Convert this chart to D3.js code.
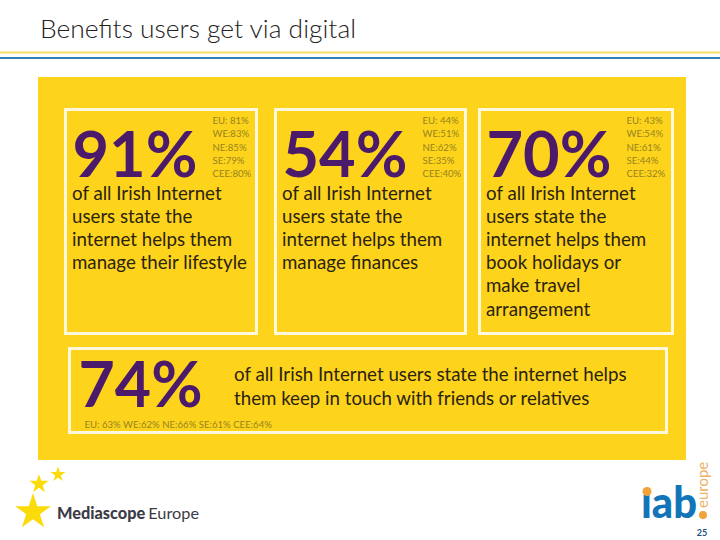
<!DOCTYPE html>
<html>
<head>
<meta charset="utf-8">
<script src="https://cdn.jsdelivr.net/npm/d3@7/dist/d3.min.js"></script>
<style>html,body{margin:0;padding:0;background:#fff}svg{display:block}text{font-family:Lato,"Open Sans",sans-serif}</style>
</head>
<body>
<svg id="c" width="720" height="540"></svg>
<script>
const titleText = "Benefits users get via digital";
const headlines = ["91%", "54%", "70%"];
const descriptions = [
  ["of all Irish Internet", "users state the", "internet helps them", "manage their lifestyle"],
  ["of all Irish Internet", "users state the", "internet helps them", "manage finances"],
  ["of all Irish Internet", "users state the", "internet helps them", "book holidays or", "make travel", "arrangement"]
];
const regionLabels = [
  ["EU: 81%", "WE:83%", "NE:85%", "SE:79%", "CEE:80%"],
  ["EU: 44%", "WE:51%", "NE:62%", "SE:35%", "CEE:40%"],
  ["EU: 43%", "WE:54%", "NE:61%", "SE:44%", "CEE:32%"]
];
const wideHeadline = "74%";
const wideDescription = ["of all Irish Internet users state the internet helps", "them keep in touch with friends or relatives"];
const wideRegions = "EU: 63% WE:62% NE:66% SE:61% CEE:64%";

const PURPLE = "#4b1a6b", YELLOW = "#fdd31c", INK = "#2b2310", GREY = "#97831f";
const svg = d3.select("#c");

svg.append("text").attr("x", 40).attr("y", 38).attr("font-size", 25.5).attr("font-weight", 300).attr("fill", "#222")
  .attr("textLength", 316).attr("lengthAdjust", "spacingAndGlyphs").text(titleText);
svg.append("rect").attr("x", 0).attr("y", 51.5).attr("width", 720).attr("height", 2).attr("fill", "#f7e06a");
svg.append("rect").attr("x", 0).attr("y", 57).attr("width", 720).attr("height", 2).attr("fill", "#2f80b8");
svg.append("rect").attr("x", 38).attr("y", 77).attr("width", 648).attr("height", 383).attr("fill", YELLOW);

const panelX = [65.5, 275.5, 479.5], panelW = [191, 190, 193];
const panels = svg.selectAll("g.panel").data(headlines).join("g").attr("class", "panel")
  .attr("transform", (d, i) => `translate(${panelX[i]},109.5)`);
panels.append("rect").attr("width", (d, i) => panelW[i]).attr("height", 224)
  .attr("fill", "none").attr("stroke", "#fff8dc").attr("stroke-width", 3);
panels.append("text").attr("x", 7).attr("y", 67.5).attr("font-size", 63).attr("font-weight", 700)
  .attr("fill", PURPLE).attr("textLength", 125).attr("lengthAdjust", "spacingAndGlyphs").text(d => d);
panels.each(function (d, i) {
  const g = d3.select(this);
  g.selectAll("text.reg").data(regionLabels[i]).join("text").attr("class", "reg")
    .attr("x", 147).attr("y", (r, k) => 14.5 + k * 13.3).attr("font-size", 9.6).attr("fill", GREY).text(r => r);
  g.selectAll("text.desc").data(descriptions[i]).join("text").attr("class", "desc")
    .attr("x", 6.5).attr("y", (r, k) => 90 + k * 23.2).attr("font-size", 18.7).attr("fill", INK).text(r => r);
});

const wide = svg.append("g").attr("transform", "translate(69.5,348.5)");
wide.append("rect").attr("width", 597).attr("height", 84).attr("fill", "none").attr("stroke", "#fff8dc").attr("stroke-width", 3);
wide.append("text").attr("x", 9).attr("y", 58).attr("font-size", 63).attr("font-weight", 700)
  .attr("fill", PURPLE).attr("textLength", 124).attr("lengthAdjust", "spacingAndGlyphs").text(wideHeadline);
wide.selectAll("text.desc").data(wideDescription).join("text").attr("class", "desc")
  .attr("x", 164.5).attr("y", (r, k) => 32 + k * 24).attr("font-size", 18.7).attr("fill", INK).text(r => r);
wide.append("text").attr("x", 15).attr("y", 79).attr("font-size", 9.6).attr("fill", GREY).text(wideRegions);

// Mediascope logo
const star = d3.symbol().type(d3.symbolStar);
[[33, 512, 400], [39, 484, 115], [58, 474.5, 70]].forEach(([x, y, s]) => {
  svg.append("path").attr("d", star.size(s)()).attr("transform", `translate(${x},${y})`).attr("fill", "#fbdc0a");
});
const ms = svg.append("text").attr("x", 57).attr("y", 519).attr("font-size", 16).attr("fill", "#3c3c46")
  .attr("textLength", 142).attr("lengthAdjust", "spacingAndGlyphs");
ms.append("tspan").attr("font-weight", 900).text("Mediascope");
ms.append("tspan").attr("dx", 3).text("Europe");

// iab logo
svg.append("text").attr("x", 641).attr("y", 518).attr("font-size", 44).attr("font-weight", 900)
  .attr("fill", "#1275b8").attr("textLength", 56).attr("lengthAdjust", "spacingAndGlyphs").text("ıab");
svg.append("circle").attr("cx", 647).attr("cy", 491.5).attr("r", 4.5).attr("fill", "#f2a33a");
svg.append("circle").attr("cx", 703).attr("cy", 515).attr("r", 4).attr("fill", "#f2a33a");
svg.append("text").attr("transform", "translate(708,508) rotate(-90)").attr("font-size", 15)
  .attr("fill", "#eeb165").text("europe");
svg.append("text").attr("x", 702).attr("y", 536).attr("font-size", 9).attr("font-weight", 700)
  .attr("text-anchor", "middle").attr("fill", "#1d4f7a").text("25");
</script>
</body>
</html>
